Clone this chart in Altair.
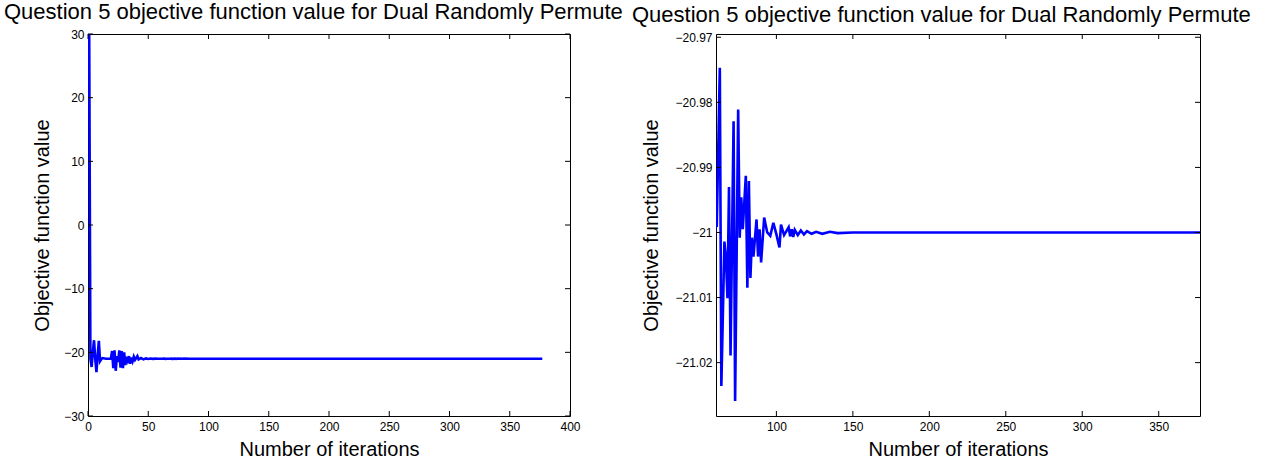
import altair as alt
import pandas as pd

# Objective function value per iteration
iters = [1, 2, 3, 4, 5, 6, 7, 8, 9, 10, 11, 12, 15, 19,
         20, 21, 22, 23, 24, 25, 26, 27, 28, 29, 30, 31, 32, 33, 34, 35, 36, 37, 38, 39, 40,
         41, 42, 44, 46, 48, 50, 52, 54, 56, 58,
         60, 61, 63, 64, 66, 67, 68, 69, 70, 72, 73, 75, 76, 77, 78, 80, 81, 82, 83, 84, 85,
         87, 88, 89, 90, 92, 94, 96, 98, 100, 102, 103, 105, 108, 109, 110, 111, 112, 114,
         116, 118, 120, 123, 126, 130, 135, 140, 150, 377]
vals = [30.0, -21.0, -22.3, -20.0, -18.1, -21.0, -23.1, -20.5, -18.2, -21.4, -21.1, -20.9, -21.0, -21.0,
        -19.8, -22.5, -19.7, -22.9, -20.6, -21.5, -19.7, -22.4, -19.8, -22.5, -20.0, -22.0, -20.7,
        -21.3, -20.6, -21.8, -20.8, -21.4, -20.7, -21.2, -20.9,
        -20.6, -21.1, -20.9, -21.1, -20.95, -21.05, -20.97, -21.03, -20.985, -21.015,
        -20.9991, -20.9990, -20.9747, -21.0236, -21.0014, -21.0039, -21.0101, -20.9930, -21.0189,
        -20.9829, -21.0259, -20.9811, -21.0008, -20.9946, -20.9995, -20.9913, -21.0085, -20.9921,
        -21.0070, -21.0008, -21.0037,
        -20.9980, -21.0037, -20.9995, -21.0046, -20.9977, -21.0000, -21.0005, -20.9985, -21.0003,
        -21.0023, -20.9988, -21.0004, -20.9992, -21.0006, -20.9995, -21.0007, -20.9996, -21.0004,
        -20.9997, -21.0003, -20.9998, -21.0002, -20.9999, -21.0002, -20.9999, -21.0001, -21.0, -21.0]

title_text = "Question 5 objective function value for Dual Randomly Permute"
x_title = "Number of iterations"
y_title = "Objective function value"

left_xticks = [0, 50, 100, 150, 200, 250, 300, 350, 400]
left_yticks = [-30, -20, -10, 0, 10, 20, 30]
right_xticks = [100, 150, 200, 250, 300, 350]
right_yticks = [-21.02, -21.01, -21.0, -20.99, -20.98, -20.97]

left_xdomain = [0, 400]
left_ydomain = [-30, 30]
right_xdomain = [60.5, 377]
right_ydomain = [-21.0282, -20.9695]

df = pd.DataFrame({"iter": iters, "value": vals})

H = 382
TICK = 5
BLUE = "#0000ff"
FONT = "Liberation Sans"


def panel(xdom, ydom, xt, yt, w, ytp):
    xs = alt.Scale(domain=xdom, nice=False, zero=False)
    ys = alt.Scale(domain=ydom, nice=False, zero=False)
    xax = alt.Axis(values=xt, title=x_title, ticks=False, grid=False, domain=False,
                   labelPadding=5, titlePadding=7, labelFontSize=12, titleFontSize=20,
                   titleFontWeight="normal", format="~f", labelFlush=False)
    yax = alt.Axis(values=yt, title=y_title, ticks=False, grid=False, domain=False,
                   labelPadding=4, titlePadding=ytp, labelFontSize=12, titleFontSize=20,
                   titleFontWeight="normal", format="~f", labelFlush=False)
    line = alt.Chart(df).mark_line(color=BLUE, strokeWidth=2.6, clip=True).encode(
        x=alt.X("iter:Q", scale=xs, axis=xax),
        y=alt.Y("value:Q", scale=ys, axis=yax),
    )
    xtdf = pd.DataFrame({"iter": xt})
    ytdf = pd.DataFrame({"value": yt})
    xb = alt.Chart(xtdf).mark_rule(color="black", strokeWidth=1).encode(
        x=alt.X("iter:Q", scale=xs, axis=xax), y=alt.value(H), y2=alt.value(H - TICK))
    xtp = alt.Chart(xtdf).mark_rule(color="black", strokeWidth=1).encode(
        x=alt.X("iter:Q", scale=xs, axis=xax), y=alt.value(0), y2=alt.value(TICK))
    yl = alt.Chart(ytdf).mark_rule(color="black", strokeWidth=1).encode(
        y=alt.Y("value:Q", scale=ys, axis=yax), x=alt.value(0), x2=alt.value(TICK))
    yr = alt.Chart(ytdf).mark_rule(color="black", strokeWidth=1).encode(
        y=alt.Y("value:Q", scale=ys, axis=yax), x=alt.value(w), x2=alt.value(w - TICK))
    return alt.layer(line, xb, xtp, yl, yr).properties(
        width=w, height=H,
        view=alt.ViewBackground(stroke="black", strokeWidth=1, fill="white"),
        title=alt.TitleParams(text=title_text, anchor="start", frame="group", dx=-84,
                              fontSize=22, font=FONT, fontWeight="normal", color="black",
                              offset=4),
    )


left = panel(left_xdomain, left_ydomain, left_xticks, left_yticks, 482, 11)
right = panel(right_xdomain, right_ydomain, right_xticks, right_yticks, 484, 13)

chart = alt.hconcat(left, right, spacing=146, bounds="flush").properties(
    padding={"left": 3, "top": 0, "right": 0, "bottom": 0}
).configure_view(stroke="black", strokeWidth=1).configure_axis(
    labelFont=FONT, titleFont=FONT, labelColor="black", titleColor="black",
    titleFontWeight="normal"
).configure_title(fontWeight="normal").configure(background="white")

chart.save("out.html", embed_options={"renderer": "svg", "actions": False})
